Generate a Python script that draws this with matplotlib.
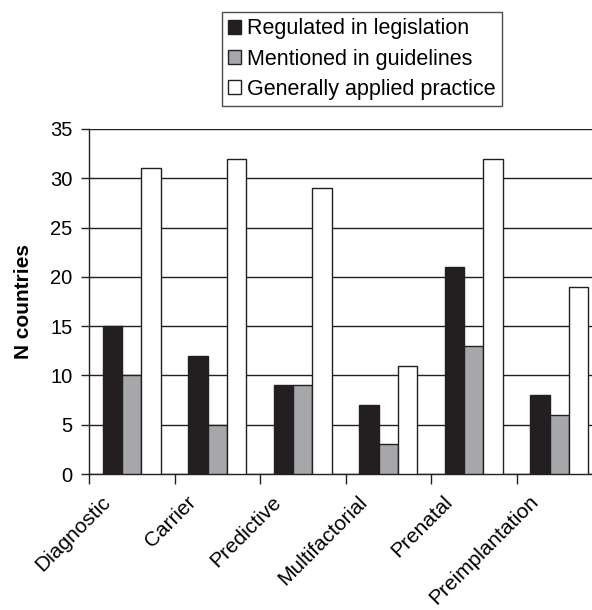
import matplotlib.pyplot as plt
import numpy as np

plt.rcParams['font.family'] = ['Liberation Sans', 'DejaVu Sans']

# data
categories = ['Diagnostic', 'Carrier', 'Predictive', 'Multifactorial', 'Prenatal', 'Preimplantation']
regulated = [15, 12, 9, 7, 21, 8]
guidelines = [10, 5, 9, 3, 13, 6]
practice = [31, 32, 29, 11, 32, 19]
series_names = ['Regulated in legislation', 'Mentioned in guidelines', 'Generally applied practice']

colors = ['#231f20', '#a6a7aa', '#ffffff']
edge = '#231f20'

fig = plt.figure(figsize=(5.92, 6.10), dpi=100)
# axes runs a little past the right edge, as in the reference
ax = fig.add_axes([89 / 592, 1 - 474 / 610, 513 / 592, 345 / 610])

x = np.arange(len(categories)) + 0.5
w = 0.226
for i, (vals, col, name) in enumerate(zip([regulated, guidelines, practice], colors, series_names)):
    ax.bar(x + (i - 1) * w, vals, width=w, color=col, edgecolor=edge, linewidth=1.0,
           label=name, zorder=3)

ax.set_ylim(0, 35)
ax.set_xlim(0, len(categories))
ax.set_yticks(range(0, 36, 5))
ax.yaxis.grid(True, color='#231f20', linewidth=1.0, zorder=0)
ax.set_axisbelow(True)

for s in ['top', 'right']:
    ax.spines[s].set_visible(False)
for s in ['left', 'bottom']:
    ax.spines[s].set_color('#231f20')
    ax.spines[s].set_linewidth(1.0)

# major ticks at category borders, labels on minor ticks
ax.set_xticks(np.arange(len(categories)))
ax.set_xticklabels([])
ax.set_xticks(x - 0.36, minor=True)
ax.set_xticklabels(categories, minor=True, rotation=45, ha='right',
                   rotation_mode='anchor', fontsize=15)
ax.tick_params(axis='x', which='major', direction='out', length=7, width=1, color='#231f20')
ax.tick_params(axis='x', which='minor', length=0, pad=13)
ax.tick_params(axis='y', direction='out', length=6, width=1, labelsize=14.5, color='#231f20', pad=6)

ax.set_ylabel('N countries', fontsize=15, fontweight='bold', labelpad=12)

leg = fig.legend(loc='upper left', bbox_to_anchor=(222 / 592, 1 - 12 / 610),
                 fontsize=15.5, frameon=True, fancybox=False, edgecolor='#231f20',
                 handlelength=0.6, handleheight=0.6, handletextpad=0.25,
                 labelspacing=0.42, borderpad=0.3, borderaxespad=0)
leg.get_frame().set_linewidth(1.0)

plt.savefig('out.png', dpi=100)
